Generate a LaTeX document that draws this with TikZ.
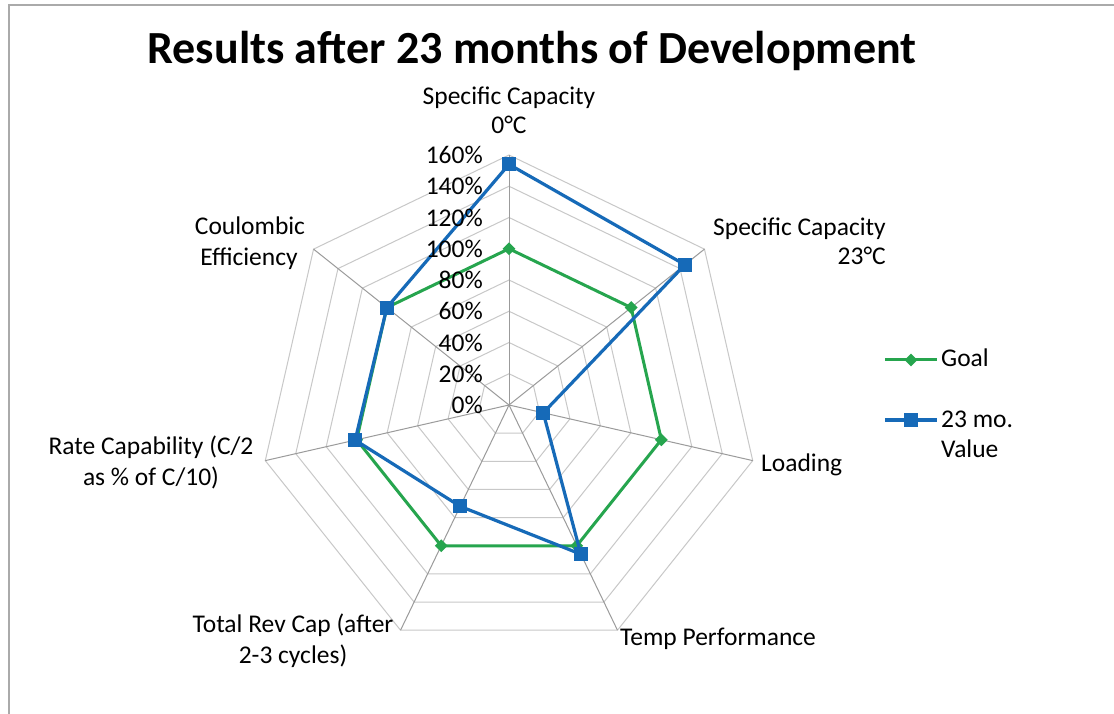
\documentclass[tikz,border=0pt]{standalone}
\usepackage{fontspec}
\setmainfont{Carlito}
\usetikzlibrary{shapes.geometric}
\definecolor{goalgreen}{RGB}{38,165,78}
\definecolor{valblue}{RGB}{22,106,184}
\definecolor{ringgray}{RGB}{200,200,200}
\definecolor{spokegray}{RGB}{155,155,155}
\definecolor{framegray}{RGB}{170,170,170}
\begin{document}
\begin{tikzpicture}[x=1pt,y=1pt,
  lbl/.style={font=\fontsize{25.5}{30}\selectfont, inner sep=0pt},
  ticklbl/.style={font=\fontsize{25.5}{30}\selectfont, inner sep=0pt, anchor=east},
  ring/.style={draw=ringgray, line width=1pt},
  spoke/.style={draw=spokegray, line width=1pt},
  goalline/.style={draw=goalgreen, line width=3pt, line join=round},
  valline/.style={draw=valblue, line width=3.2pt, line join=round},
  gmark/.style={diamond, fill=goalgreen, inner sep=0pt, minimum width=13pt, minimum height=13pt},
  bmark/.style={rectangle, fill=valblue, inner sep=0pt, minimum size=14pt}]
\useasboundingbox (0,0) rectangle (1114,714);
\fill[white] (0,0) rectangle (1114,714);
\draw[framegray, line width=2pt] (9,0) -- (9,709) -- (1114,709);

% title
\node[font=\fontsize{46}{50}\selectfont\bfseries, anchor=base, inner sep=0pt] (title) at (532,650) {Results after 23 months of Development};

\begin{scope}[shift={(509,309)}]
  % rings
  \foreach \k in {1,...,8} {
    \draw[ring] (90:{31.25*\k}) \foreach \i in {1,...,6} { -- ({90-\i*360/7}:{31.25*\k}) } -- cycle;
  }
  % spokes
  \coordinate (ctr) at (0,0);
  \foreach \i in {0,...,6} {
    \coordinate (ax\i) at ({90-\i*360/7}:250);
    \draw[spoke] (ctr) -- (ax\i);
  }
  % data points
  \foreach \i in {0,...,6} {
    \coordinate (g\i) at ({90-\i*360/7}:156.25);
  }
  \foreach \v [count=\i from 0] in {154,144,22.5,106,72,101,100} {
    \coordinate (b\i) at ({90-\i*360/7}:{1.5625*\v});
  }
  % goal series
  \draw[goalline] (g0) -- (g1) -- (g2) -- (g3) -- (g4) -- (g5) -- (g6) -- cycle;
  \foreach \i in {0,...,6} { \node[gmark] (gm\i) at (g\i) {}; }
  % value series
  \draw[valline] (b0) -- (b1) -- (b2) -- (b3) -- (b4) -- (b5) -- (b6) -- cycle;
  \foreach \i in {0,...,6} { \node[bmark] (bm\i) at (b\i) {}; }
\end{scope}

% axis tick labels
\foreach \k in {0,...,8} {
  \pgfmathtruncatemacro{\pct}{20*\k}
  \node[ticklbl] (tk\k) at (483,{309+31.25*\k}) {\pct\%};
}

% category labels
\node[lbl, anchor=base] (sc0a) at (509,609) {Specific Capacity};
\node[lbl, anchor=base] (sc0b) at (509,580) {0°C};
\node[lbl, anchor=base east] (sc23a) at (886,478) {Specific Capacity};
\node[lbl, anchor=base east] (sc23b) at (886,449) {23°C};
\node[lbl, anchor=base] (ce1) at (250,479) {Coulombic};
\node[lbl, anchor=base] (ce2) at (249,448) {Efficiency};
\node[lbl, anchor=base] (rc1) at (151,259) {Rate Capability (C/2};
\node[lbl, anchor=base] (rc2) at (151,228) {as \% of C/10)};
\node[lbl, anchor=base west] (load) at (761,242) {Loading};
\node[lbl, anchor=base west] (temp) at (620,68) {Temp Performance};
\node[lbl, anchor=base] (trc1) at (293,81) {Total Rev Cap (after};
\node[lbl, anchor=base] (trc2) at (293,50) {2-3 cycles)};

% legend
\coordinate (lgA) at (885,354);
\coordinate (lgB) at (937,354);
\coordinate (lbA) at (885,294);
\coordinate (lbB) at (937,294);
\draw[goalline] (lgA) -- (lgB);
\node[gmark] (lgm) at (911,354) {};
\draw[valline] (lbA) -- (lbB);
\node[bmark] (lbm) at (911,294) {};
\node[lbl, anchor=base west] (lg1) at (941,347) {Goal};
\node[lbl, anchor=base west] (lb1) at (941,286) {23 mo.};
\node[lbl, anchor=base west] (lb2) at (941,256) {Value};
\end{tikzpicture}
\end{document}
